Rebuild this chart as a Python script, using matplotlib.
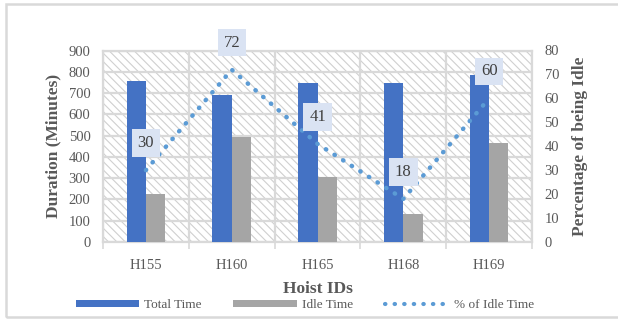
import matplotlib
matplotlib.use("Agg")
import matplotlib.pyplot as plt
import numpy as np
from matplotlib.patches import Rectangle, Patch
from matplotlib.lines import Line2D

categories = ["H155", "H160", "H165", "H168", "H169"]
total_time = [755, 690, 745, 745, 785]
idle_time = [225, 495, 305, 130, 465]
idle_pct = [30, 72, 41, 18, 60]

plt.rcParams['font.family'] = ['Liberation Serif', 'DejaVu Serif']
plt.rcParams['hatch.linewidth'] = 0.8

TXT = '#595959'
GRID = '#d9d9d9'
BLUE = '#4472c4'
GRAY = '#a5a5a5'
LINE = '#5b9bd5'

fig = plt.figure(figsize=(6.18, 3.21), dpi=100)
pos = [103/618, 1-242/321, (532-103)/618, (242-50.5)/321]

# hatched background
bg = fig.add_axes(pos)
bg.set_zorder(0)
bg.set_xlim(0, 1); bg.set_ylim(0, 1)
bg.add_patch(Rectangle((0, 0), 1, 1, facecolor='white', edgecolor='#d0d0d0',
                       linewidth=0, hatch='\\\\\\\\'))
bg.axis('off')

ax = fig.add_axes(pos)
ax.set_zorder(1)
ax.patch.set_visible(False)

x = np.arange(len(categories))
w = 0.225
ax.bar(x - w/2, total_time, w, color=BLUE, zorder=3, label='Total Time')
ax.bar(x + w/2, idle_time, w, color=GRAY, zorder=3, label='Idle Time')
ax.set_xlim(-0.5, len(categories) - 0.5)
ax.set_ylim(0, 900)
ax.set_yticks(range(0, 901, 100))
ax.yaxis.grid(True, color=GRID, linewidth=1.6, zorder=1)
for b in np.arange(-0.5, len(categories) + 0.5, 1):
    ax.axvline(b, color=GRID, linewidth=1.6, zorder=1)
ax.set_xticks(x)
ax.set_xticklabels(categories)
ax.set_xticks(np.arange(-0.5, len(categories) + 0.5, 1), minor=True)
ax.tick_params(axis='x', which='major', length=0, colors=TXT, labelsize=10.5, pad=12)
ax.tick_params(axis='x', which='minor', length=5, color=GRID, width=1.2)
ax.tick_params(axis='y', length=0, colors=TXT, labelsize=10.5, pad=9)
for s in ax.spines.values():
    s.set_color(GRID); s.set_linewidth(1.6)
ax.set_ylabel('Duration (Minutes)', fontsize=12.5, fontweight='bold', color=TXT, labelpad=5)
ax.set_xlabel('Hoist IDs', fontsize=12.5, fontweight='bold', color=TXT, labelpad=7)

ax2 = ax.twinx()
ax2.set_zorder(2)
ax2.set_ylim(0, 80)
ax2.set_yticks(range(0, 81, 10))
ax2.tick_params(axis='y', length=0, colors=TXT, labelsize=10.5, pad=9)
for s in ax2.spines.values():
    s.set_visible(False)
ax2.plot(x, idle_pct, color=LINE, linestyle=(0, (0.1, 2.2)), linewidth=3.2,
         dash_capstyle='round', zorder=4, label='% of Idle Time')
for xi, v in zip(x, idle_pct):
    ax2.annotate(str(v), (xi, v), xytext=(0, 27), textcoords='offset pixels',
                 ha='center', va='center', fontsize=12, color='#404040', zorder=5,
                 bbox=dict(boxstyle='square,pad=0.35', facecolor='#dae3f3', edgecolor='none'),
                 annotation_clip=False)
ax2.set_ylabel('Percentage of being Idle', fontsize=12.5, fontweight='bold', color=TXT, labelpad=9)

handles = [Patch(facecolor=BLUE, edgecolor='none'), Patch(facecolor=GRAY, edgecolor='none'),
           Line2D([], [], color=LINE, linestyle=(0, (0.1, 2.2)), linewidth=3.0, dash_capstyle='round')]
leg = fig.legend(handles, ['Total Time', 'Idle Time', '% of Idle Time'], loc='center',
                 bbox_to_anchor=(0.493, 1-305/321), ncol=3, frameon=False, fontsize=9.5,
                 handlelength=4.8, handleheight=0.45, handletextpad=0.4, columnspacing=2.4,
                 labelcolor=TXT, borderpad=0.1)

fig.patches.append(Rectangle((6/618, 4/321), 1, 1-8/321, transform=fig.transFigure,
                             facecolor='none', edgecolor=GRID, linewidth=1.8, figure=fig))

fig.savefig('out.png', dpi=100)
